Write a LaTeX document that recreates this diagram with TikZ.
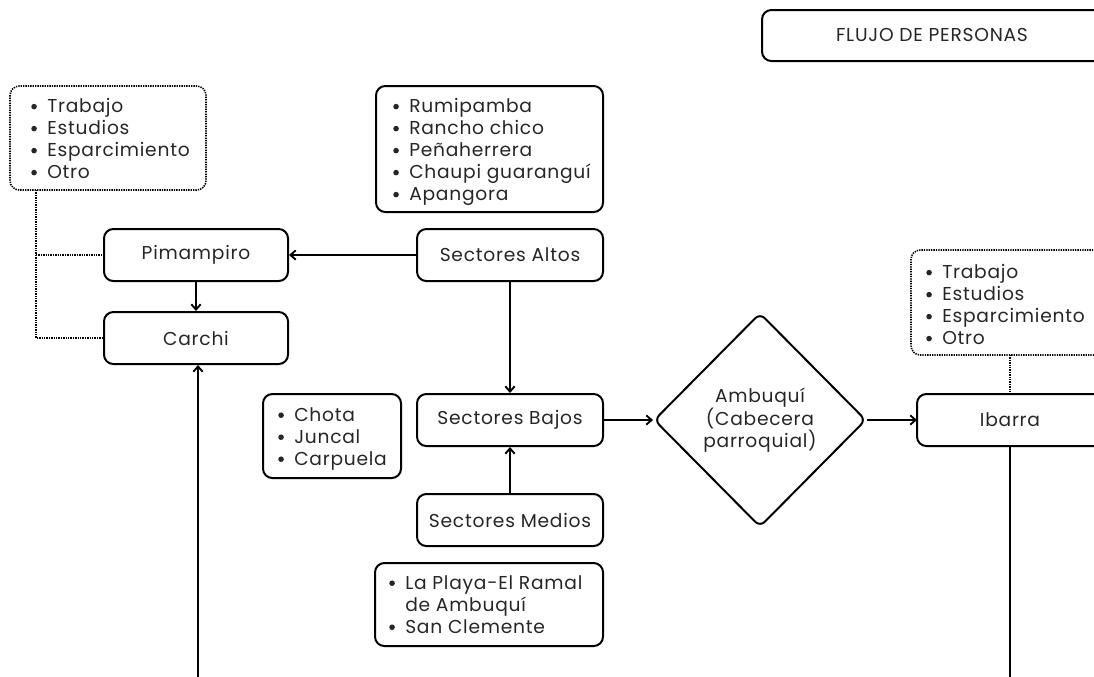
\documentclass[tikz,border=0pt]{standalone}
\usepackage{fontspec}
\setmainfont{Poppins}[LetterSpace=4]
\usetikzlibrary{shapes.geometric,arrows.meta}
\tikzset{
  box/.style={draw, line width=1.5pt, rounded corners=7pt, inner sep=0pt},
  dotbox/.style={draw, line width=1.2pt, rounded corners=7pt, dash pattern=on 1pt off 0.8pt},
  conn/.style={line width=1.4pt, -{Straight Barb[length=4pt,width=7pt]}},
  plain/.style={line width=1.4pt},
  dotline/.style={line width=1.2pt, dash pattern=on 1pt off 0.8pt},
  lbl/.style={font=\fontsize{14}{16.5}\selectfont, text=black!85},
  lst/.style={font=\fontsize{14}{16.5}\selectfont, text=black!85, anchor=north west, inner sep=0pt, align=left},
}
\newcommand{\bul}{\makebox[12pt][l]{\raisebox{0.3ex}{\tikz\fill[black!85] (0,0) circle (2.1pt);}}}
\newcommand{\nobul}{\hspace*{12pt}}
\begin{document}
\begin{tikzpicture}[x=0.75pt,y=-0.75pt]
\useasboundingbox (0,0) rectangle (1094,676);
\clip (0,0) rectangle (1094,676);
% title
\draw[line width=1.5pt, rounded corners=7pt] (1110,10) -- (762,10) -- (762,61) -- (1110,61);
\node[lbl] (flujot) at (932,35) {FLUJO DE PERSONAS};

% left list
\draw[dotbox] (10,86) rectangle (206,190);
\coordinate (lbox) at (36,190);
\node[lst] (llist) at (31,98) {\bul Trabajo\\ \bul Estudios\\ \bul Esparcimiento\\ \bul Otro};

\node[box, minimum width=184*0.75pt, minimum height=52*0.75pt, lbl] (pim) at (196,255) {Pimampiro};
\node[box, minimum width=184*0.75pt, minimum height=52*0.75pt, lbl] (car) at (196,338) {Carchi};

\draw[box] (376,86) rectangle (603,212);
\node[lst] (rlist) at (393,98) {\bul Rumipamba\\ \bul Rancho chico\\ \bul Peñaherrera\\ \bul Chaupi guaranguí\\ \bul Apangora};

\node[box, minimum width=186*0.75pt, minimum height=52*0.75pt, lbl] (alt) at (510,255) {Sectores Altos};
\node[box, minimum width=186*0.75pt, minimum height=52*0.75pt, lbl] (baj) at (510,420) {Sectores Bajos};
\node[box, minimum width=186*0.75pt, minimum height=52*0.75pt, lbl] (med) at (510,520) {Sectores Medios};

\draw[box] (263,394) rectangle (401,478);
\node[lst] (clist) at (278,407) {\bul Chota\\ \bul Juncal\\ \bul Carpuela};

\draw[box] (375,563) rectangle (603,646);
\node[lst] (plist) at (389,575) {\bul La Playa-El Ramal\\ \nobul de Ambuquí\\ \bul San Clemente};

\node[draw, line width=1.5pt, diamond, rounded corners=5pt, minimum width=212*0.75pt, minimum height=214*0.75pt, inner sep=0pt, lbl, align=center] (amb) at (760,420) {Ambuquí\\(Cabecera\\parroquial)};

% Ibarra (cut by the right edge)
\draw[line width=1.5pt, rounded corners=7pt] (1110,394) -- (917,394) -- (917,446) -- (1110,446);
\coordinate (ibw) at (917,420);
\coordinate (ibn) at (1010,394);
\coordinate (ibs) at (1010,446);
\node[lbl] (ibt) at (1010,420) {Ibarra};

\draw[dotbox] (1110,250) -- (911,250) -- (911,355) -- (1110,355);
\coordinate (rbox) at (1010,355);
\node[lst] (rlist2) at (926,264) {\bul Trabajo\\ \bul Estudios\\ \bul Esparcimiento\\ \bul Otro};

% bottom ends
\coordinate (botl) at (198,680);
\coordinate (botr) at (1010,680);

% connectors
\draw[conn] (alt.west) -- (pim.east);
\draw[conn] (pim.south) -- (car.north);
\draw[conn] (alt.south) -- (baj.north);
\draw[conn] (med.north) -- (baj.south);
\draw[conn] (baj.east) -- (amb.west);
\draw[conn] (amb.east) -- (ibw);
\draw[conn] (botl) -- (botl |- car.south);
\draw[plain] (ibs) -- (botr);
\draw[dotline] (rbox) -- (ibn);
\draw[dotline] (lbox) |- (car.west);
\draw[dotline] (lbox |- pim.west) -- (pim.west);
\end{tikzpicture}
\end{document}
